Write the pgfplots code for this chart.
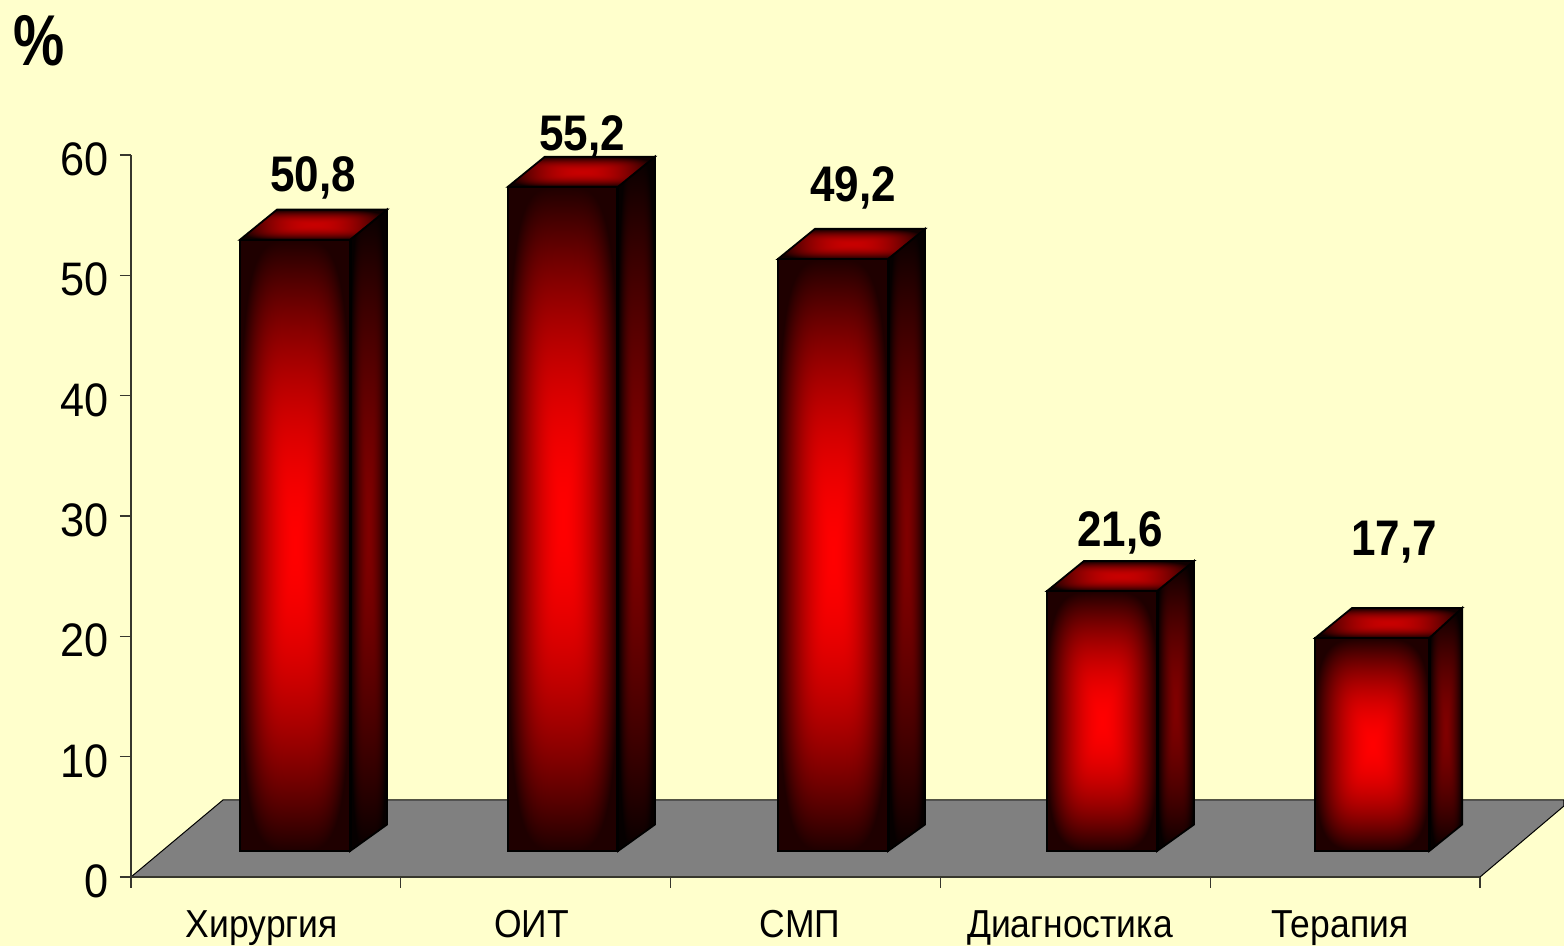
\documentclass[border=0pt]{standalone}
\usepackage{fontspec}
\usepackage{pgfplots}
\pgfplotsset{compat=1.18}
\setmainfont{Liberation Sans}
\newfontfamily\tickfont[FakeStretch=0.92]{Liberation Sans}
\newfontfamily\catfont[FakeStretch=0.91]{Liberation Sans}
\newfontfamily\valfont[FakeStretch=0.88]{Liberation Sans Bold}
\newfontfamily\pctfont[FakeStretch=0.8]{Liberation Sans Bold}
\definecolor{bgc}{RGB}{255,255,204}
\definecolor{floorc}{RGB}{128,128,128}
\definecolor{axc}{RGB}{55,55,45}
% rectangular "from centre" gradients, with softened corners
\pgfdeclarefunctionalshading{barfront}{\pgfpoint{-50bp}{-50bp}}{\pgfpoint{50bp}{50bp}}{}{
  25 div abs 4 exp exch 25 div abs 4 exp add 0.25 exp dup 1 gt {pop 1} if 1.8 exp 0.88 mul 1 exch sub 0 0}
\pgfdeclarefunctionalshading{barside}{\pgfpoint{-50bp}{-50bp}}{\pgfpoint{50bp}{50bp}}{}{
  25 div abs 4 exp exch 25 div abs 4 exp add 0.25 exp dup 1 gt {pop 1} if 1.6 exp 0.95 mul 1 exch sub 0.5 mul 0 0}
\pgfdeclarefunctionalshading{bartop}{\pgfpoint{-50bp}{-50bp}}{\pgfpoint{50bp}{50bp}}{}{
  25 div abs 4 exp exch 25 div abs 4 exp add 0.25 exp dup 1 gt {pop 1} if 2 exp 0.92 mul 1 exch sub 0.78 mul 0 0}
% left edge of the front face (category units), value, front width, side width
\newcommand\threeDbar[4]{%
  \pgfmathsetmacro\xa{#1}%
  \pgfmathsetmacro\xb{#1+#3}%
  \pgfmathsetmacro\xc{#1+#3+#4}%
  \pgfmathsetmacro\xd{#1+0.137}%
  \pgfmathsetmacro\ya{2.16}%
  \pgfmathsetmacro\yb{2.16+#2}%
  \pgfmathsetmacro\yc{2.16+#2+2.5}%
  \pgfmathsetmacro\ye{2.16+2.2}%
  \edef\temp{%
    \noexpand\addplot[draw=black,line width=0.9pt,shading=barside] coordinates
      {(\xb,\ya) (\xc,\ye) (\xc,\yc) (\xb,\yb)} -- cycle;
    \noexpand\addplot[draw=black,line width=0.9pt,shading=bartop] coordinates
      {(\xa,\yb) (\xd,\yc) (\xc,\yc) (\xb,\yb)} -- cycle;
    \noexpand\addplot[draw=black,line width=0.9pt,shading=barfront] coordinates
      {(\xa,\ya) (\xb,\ya) (\xb,\yb) (\xa,\yb)} -- cycle;
    \noexpand\addplot[draw=black,line width=1.5pt] coordinates {(\xb,\ya) (\xb,\yb)};
  }\temp}
\begin{document}
\begin{tikzpicture}[x=1pt,y=1pt]
\fill[bgc] (-65.5pt,-34.5pt) rectangle (716.5pt,438.5pt);
\path[use as bounding box] (-65.5pt,-34.5pt) rectangle (716.5pt,438.5pt);
\begin{axis}[
  at={(0pt,0pt)},anchor=origin,
  scale only axis,width=674.5pt,height=361pt,
  xmin=0,xmax=5,ymin=0,ymax=60,clip=false,
  axis y line*=left,axis x line*=bottom,
  axis line style={draw=axc,line width=0.7pt,-},
  axis on top,
  tick style={draw=axc,line width=0.7pt},
  tick align=outside,
  major tick length=5.5pt,
  ytick={0,10,...,60},
  minor xtick={0,1,2,3,4,5},
  xtick={0.485,1.485,2.48,3.48,4.48},
  xticklabels={Хирургия,ОИТ,СМП,Диагностика,Терапия},
  x tick style={draw=none},
  minor x tick style={draw=axc,line width=0.7pt},
  minor tick length=5.5pt,
  xticklabel style={font=\catfont\fontsize{19.5}{22}\selectfont,anchor=base,yshift=-25pt},
  yticklabel style={font=\tickfont\fontsize{23.5}{26}\selectfont,xshift=-2pt,yshift=-2.2pt},
  /pgf/number format/assume math mode=true,
]
% floor
\addplot[fill=floorc,draw=black,line width=0.5pt] coordinates
  {(0,0) (0.341,6.4) (5.311,6.4) (5.311,5.9) (5,0)} -- cycle;
% value labels
\addplot[draw=none] coordinates {(0.675,58.1)} node[font=\valfont\fontsize{25}{28}\selectfont]{50,8};
\addplot[draw=none] coordinates {(1.672,61.5)} node[font=\valfont\fontsize{25}{28}\selectfont]{55,2};
\addplot[draw=none] coordinates {(2.676,57.3)} node[font=\valfont\fontsize{25}{28}\selectfont]{49,2};
\addplot[draw=none] coordinates {(3.666,28.6)} node[font=\valfont\fontsize{25}{28}\selectfont]{21,6};
\addplot[draw=none] coordinates {(4.681,27.8)} node[font=\valfont\fontsize{25}{28}\selectfont]{17,7};
\threeDbar{0.404}{50.8}{0.408}{0.137}
\threeDbar{1.397}{55.2}{0.408}{0.137}
\threeDbar{2.398}{49.2}{0.408}{0.137}
\threeDbar{3.395}{21.6}{0.408}{0.137}
\threeDbar{4.389}{17.7}{0.423}{0.122}
\end{axis}
\node[font=\pctfont\fontsize{36}{40}\selectfont] at (-46pt,418pt) {\%};
\end{tikzpicture}
\end{document}
